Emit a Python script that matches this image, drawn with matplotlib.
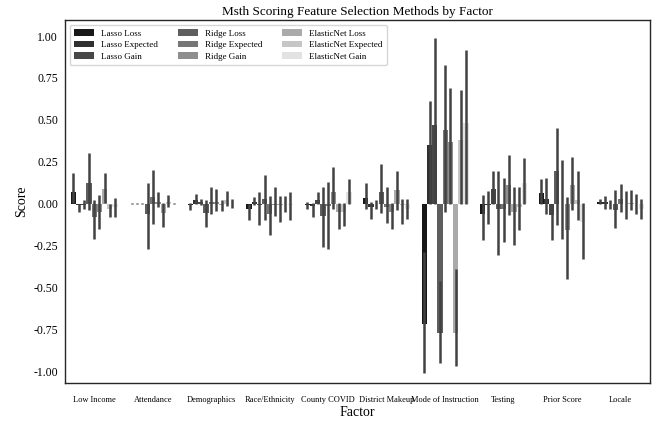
import numpy as np
import matplotlib
matplotlib.use('Agg')
import matplotlib.pyplot as plt

plt.rcParams['font.family'] = ['Liberation Serif', 'DejaVu Serif']

factors = ['Low Income', 'Attendance', 'Demographics', 'Race/Ethnicity', 'County COVID',
           'District Makeup', 'Mode of Instruction', 'Testing', 'Prior Score', 'Locale']
series = ['Lasso Loss', 'Lasso Expected', 'Lasso Gain',
          'Ridge Loss', 'Ridge Expected', 'Ridge Gain',
          'ElasticNet Loss', 'ElasticNet Expected', 'ElasticNet Gain']

# mean score and confidence interval per factor, one set for each series
lasso_loss = [0.07, 0.0, -0.01, -0.03, -0.01, 0.035, -0.72, -0.063, 0.065, 0.01]
lasso_loss_lo = [0.005, -0.005, -0.04, -0.10, -0.03, -0.03, -1.01, -0.22, 0.0, -0.005]
lasso_loss_hi = [0.18, 0.005, 0.005, 0.0, 0.01, 0.12, -0.29, 0.05, 0.144, 0.027]

lasso_exp = [-0.01, 0.0, 0.02, 0.01, -0.015, -0.02, 0.35, -0.01, 0.027, 0.01]
lasso_exp_lo = [-0.05, -0.005, 0.0, -0.01, -0.08, -0.09, 0.0, -0.12, -0.063, -0.03]
lasso_exp_hi = [0.0, 0.005, 0.06, 0.04, 0.005, 0.01, 0.61, 0.077, 0.154, 0.045]

lasso_gain = [-0.01, 0.0, 0.01, -0.01, 0.02, -0.005, 0.47, 0.087, -0.069, -0.005]
lasso_gain_lo = [-0.03, -0.005, -0.01, -0.13, 0.0, -0.03, 0.0, 0.0, -0.22, -0.03]
lasso_gain_hi = [0.02, 0.005, 0.03, 0.07, 0.07, 0.02, 0.99, 0.196, 0.0, 0.02]

ridge_loss = [0.12, -0.063, -0.055, 0.03, -0.075, 0.07, -0.77, -0.035, 0.196, -0.04]
ridge_loss_lo = [-0.04, -0.27, -0.14, -0.10, -0.26, -0.055, -0.95, -0.31, -0.13, -0.144]
ridge_loss_hi = [0.30, 0.12, 0.02, 0.17, 0.10, 0.235, -0.46, 0.196, 0.45, 0.08]

ridge_exp = [-0.08, 0.04, 0.01, -0.06, -0.015, -0.02, 0.44, -0.035, 0.0, 0.03]
ridge_exp_lo = [-0.21, -0.12, -0.06, -0.19, -0.27, -0.115, -0.05, -0.23, -0.21, -0.05]
ridge_exp_hi = [0.02, 0.20, 0.10, 0.045, 0.13, 0.10, 0.83, 0.154, 0.26, 0.115]

ridge_gain = [-0.05, 0.01, 0.01, -0.01, 0.07, -0.05, 0.37, 0.11, -0.16, -0.005]
ridge_gain_lo = [-0.15, -0.02, -0.045, -0.075, -0.03, -0.15, 0.0, -0.07, -0.45, -0.095]
ridge_gain_hi = [0.05, 0.07, 0.085, 0.10, 0.22, 0.005, 0.69, 0.29, 0.04, 0.077]

enet_loss = [0.09, -0.055, -0.01, -0.01, -0.05, 0.08, -0.77, -0.05, 0.11, 0.005]
enet_loss_lo = [0.005, -0.14, -0.045, -0.11, -0.15, -0.04, -0.97, -0.25, -0.04, -0.04]
enet_loss_hi = [0.18, 0.005, 0.02, 0.045, 0.005, 0.195, -0.39, 0.10, 0.28, 0.08]

enet_exp = [-0.03, 0.01, 0.02, 0.0, -0.05, -0.01, 0.38, -0.02, 0.02, 0.0]
enet_exp_lo = [-0.08, -0.02, -0.015, -0.05, -0.135, -0.12, 0.0, -0.16, -0.10, -0.06]
enet_exp_hi = [0.0, 0.05, 0.075, 0.045, 0.005, 0.025, 0.68, 0.10, 0.196, 0.06]

enet_gain = [-0.02, 0.0, 0.0, -0.01, 0.07, -0.03, 0.48, 0.12, -0.11, -0.03]
enet_gain_lo = [-0.08, -0.005, -0.025, -0.10, 0.0, -0.09, 0.0, 0.0, -0.33, -0.095]
enet_gain_hi = [0.035, 0.005, 0.03, 0.07, 0.145, 0.025, 0.92, 0.27, 0.005, 0.025]

means = [lasso_loss, lasso_exp, lasso_gain, ridge_loss, ridge_exp, ridge_gain,
         enet_loss, enet_exp, enet_gain]
lows = [lasso_loss_lo, lasso_exp_lo, lasso_gain_lo, ridge_loss_lo, ridge_exp_lo,
        ridge_gain_lo, enet_loss_lo, enet_exp_lo, enet_gain_lo]
highs = [lasso_loss_hi, lasso_exp_hi, lasso_gain_hi, ridge_loss_hi, ridge_exp_hi,
         ridge_gain_hi, enet_loss_hi, enet_exp_hi, enet_gain_hi]

colors = ['#181818', '#303030', '#474747', '#5e5e5e', '#767676',
          '#8e8e8e', '#aaaaaa', '#c6c6c6', '#e2e2e2']

fig = plt.figure(figsize=(6.57, 4.21), dpi=100)
ax = fig.add_axes([0.099, 0.090, 0.890, 0.862])

x = np.arange(len(factors))
n = len(series)
w = 0.8 / n
for j in range(n):
    pos = x - 0.4 + (j + 0.5) * w
    ax.bar(pos, means[j], width=w, color=colors[j], label=series[j], zorder=2)
    ax.vlines(pos, lows[j], highs[j], color='#424242', lw=1.8, zorder=3)

ax.set_xlim(-0.5, len(factors) - 0.5)
ax.set_ylim(-1.072, 1.095)
yt = [-1.0, -0.75, -0.5, -0.25, 0.0, 0.25, 0.5, 0.75, 1.0]
ax.set_yticks(yt)
ax.set_yticklabels(['%.2f' % v for v in yt])
ax.set_xticks(x)
ax.set_xticklabels(factors, fontsize=6.0)
ax.tick_params(axis='x', length=0, pad=9)
ax.tick_params(axis='y', length=0, pad=5, labelsize=8.5)
for s in ax.spines.values():
    s.set_color('#262626')
    s.set_linewidth(1.0)

ax.set_title('Msth Scoring Feature Selection Methods by Factor', fontsize=9.5, pad=4)
ax.set_xlabel('Factor', fontsize=10, labelpad=2)
ax.set_ylabel('Score', fontsize=10)
ax.legend(loc='upper left', ncol=3, fontsize=6.5, handlelength=2.2,
          columnspacing=2.2, labelspacing=0.35, borderpad=0.5)

fig.savefig('out.png', dpi=100)
